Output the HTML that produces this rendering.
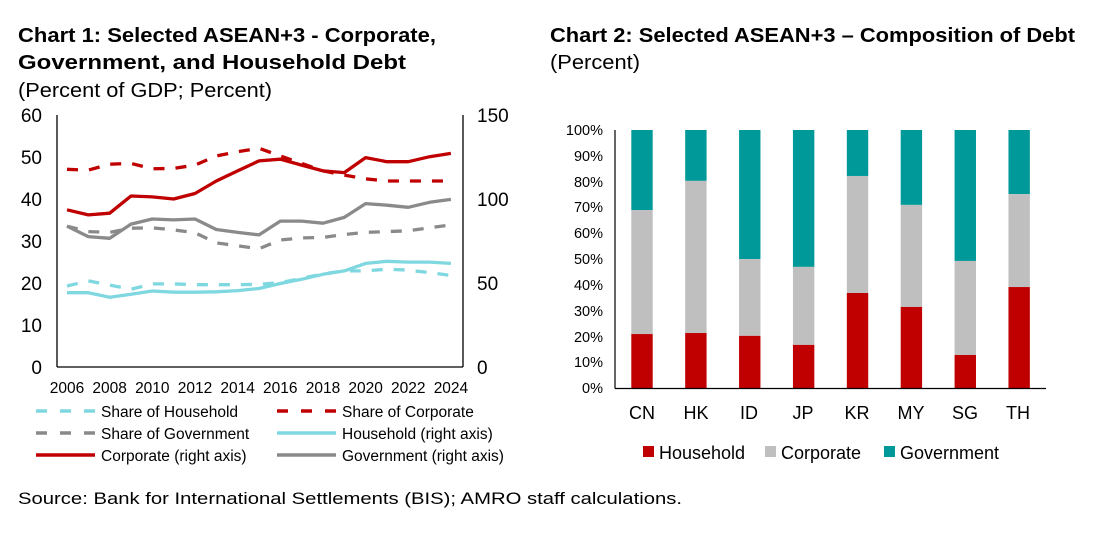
<!DOCTYPE html>
<html><head><meta charset="utf-8"><style>
body{margin:0;background:#fff;width:1103px;height:537px;overflow:hidden}
svg{display:block;font-family:"Liberation Sans",Arial,sans-serif}
</style></head><body>
<svg id="s" width="1103" height="537" viewBox="0 0 1103 537">
<text x="18" y="42" font-size="20" font-weight="bold" fill="#000" textLength="418" lengthAdjust="spacingAndGlyphs">Chart 1: Selected ASEAN+3 - Corporate,</text>
<text x="18" y="69" font-size="20" font-weight="bold" fill="#000" textLength="388" lengthAdjust="spacingAndGlyphs">Government, and Household Debt</text>
<text x="18" y="97" font-size="20" fill="#000" textLength="254" lengthAdjust="spacingAndGlyphs">(Percent of GDP; Percent)</text>
<text x="550" y="42" font-size="20" font-weight="bold" fill="#000" textLength="525" lengthAdjust="spacingAndGlyphs">Chart 2: Selected ASEAN+3 – Composition of Debt</text>
<text x="550" y="69" font-size="20" fill="#000" textLength="90" lengthAdjust="spacingAndGlyphs">(Percent)</text>
<g font-size="19" fill="#000" text-anchor="end">
<text x="42" y="122">60</text><text x="42" y="164">50</text><text x="42" y="206">40</text><text x="42" y="248">30</text><text x="42" y="290">20</text><text x="42" y="332">10</text><text x="42" y="374">0</text>
</g>
<g font-size="19" fill="#000">
<text x="477" y="122">150</text><text x="477" y="206">100</text><text x="477" y="290">50</text><text x="477" y="374">0</text>
</g>
<g id="xl" font-size="15.5" fill="#000" text-anchor="middle"></g>
<g id="lines"></g>
<line x1="57" y1="115" x2="57" y2="367" stroke="#000" stroke-width="1.3"/>
<line x1="463" y1="115" x2="463" y2="367" stroke="#000" stroke-width="1.3"/>
<line x1="57" y1="367" x2="463" y2="367" stroke="#000" stroke-width="1.3"/>
<g font-size="15.5" fill="#000">
<line x1="36" y1="411" x2="95" y2="411" stroke="#7fd7e0" stroke-width="3.5" stroke-dasharray="11,13"/><text x="101" y="417">Share of Household</text>
<line x1="277" y1="411" x2="336" y2="411" stroke="#c00000" stroke-width="3.5" stroke-dasharray="11,13"/><text x="342" y="417">Share of Corporate</text>
<line x1="36" y1="433" x2="95" y2="433" stroke="#8a8a8a" stroke-width="3.5" stroke-dasharray="11,13"/><text x="101" y="439">Share of Government</text>
<line x1="277" y1="433" x2="336" y2="433" stroke="#7fd7e0" stroke-width="3.5"/><text x="342" y="439">Household (right axis)</text>
<line x1="36" y1="455" x2="95" y2="455" stroke="#c00000" stroke-width="3.5"/><text x="101" y="461">Corporate (right axis)</text>
<line x1="277" y1="455" x2="336" y2="455" stroke="#8a8a8a" stroke-width="3.5"/><text x="342" y="461">Government (right axis)</text>
</g>
<g font-size="14.5" fill="#000" text-anchor="end">
<text x="603" y="135">100%</text><text x="603" y="161">90%</text><text x="603" y="187">80%</text><text x="603" y="212">70%</text><text x="603" y="238">60%</text><text x="603" y="264">50%</text><text x="603" y="290">40%</text><text x="603" y="316">30%</text><text x="603" y="342">20%</text><text x="603" y="367">10%</text><text x="603" y="393">0%</text>
</g>
<g id="bars"></g>
<line x1="615" y1="130" x2="615" y2="388.5" stroke="#000" stroke-width="1.2"/>
<line x1="615" y1="388.5" x2="1046" y2="388.5" stroke="#000" stroke-width="1.2"/>
<g font-size="18" fill="#000" text-anchor="middle">
<text x="642" y="419">CN</text><text x="696" y="419">HK</text><text x="749" y="419">ID</text><text x="803" y="419">JP</text><text x="857" y="419">KR</text><text x="911" y="419">MY</text><text x="965" y="419">SG</text><text x="1018" y="419">TH</text>
</g>
<g font-size="18" fill="#000">
<rect x="643" y="446" width="11" height="11" fill="#c00000"/><text x="659" y="459">Household</text>
<rect x="765" y="446" width="11" height="11" fill="#bfbfbf"/><text x="781" y="459">Corporate</text>
<rect x="884" y="446" width="11" height="11" fill="#009999"/><text x="900" y="459">Government</text>
</g>
<text x="18" y="504" font-size="17" fill="#000" textLength="664" lengthAdjust="spacingAndGlyphs">Source: Bank for International Settlements (BIS); AMRO staff calculations.</text>
</svg>
<script>
var NS="http://www.w3.org/2000/svg";
function el(t,a,p){var e=document.createElementNS(NS,t);for(var k in a)e.setAttribute(k,a[k]);p.appendChild(e);return e;}
var xl=document.getElementById('xl');
for(var y=2006;y<=2024;y+=2){var t=el('text',{x:67+(y-2006)*21.33,y:393},xl);t.textContent=y;}
var S=[
["#7fd7e0",1,[19.3,20.5,19.5,18.5,19.8,19.8,19.6,19.6,19.6,19.7,20.1,21.1,22.2,22.9,22.9,23.3,23.1,22.5,21.8]],
["#8a8a8a",1,[33.6,32.3,32.1,33.1,33.2,32.7,32,29.6,28.9,28.2,30.3,30.8,30.9,31.6,32.1,32.3,32.5,33.2,33.9]],
["#c00000",1,[47.2,47,48.4,48.6,47.3,47.4,48.2,50.4,51.4,52.2,50.4,48.6,46.8,45.8,44.9,44.4,44.4,44.4,44.4]],
["#7fd7e0",0,[17.7,17.7,16.6,17.3,18.1,17.8,17.8,17.9,18.2,18.7,19.9,20.9,22.1,22.9,24.7,25.2,25,25,24.7]],
["#8a8a8a",0,[33.6,31.1,30.7,34.1,35.3,35.1,35.3,32.8,32.1,31.5,34.8,34.8,34.3,35.7,39,38.6,38.1,39.3,40]],
["#c00000",0,[37.5,36.3,36.7,40.8,40.6,40.1,41.4,44.4,46.8,49.2,49.6,48.2,46.8,46.4,50,49,49,50.2,51]]];
var g=document.getElementById('lines');
S.forEach(function(s){var p=s[2].map(function(v,i){return (67+i*21.33).toFixed(1)+","+(366.7-v*4.183).toFixed(1)}).join(" ");
var a={points:p,fill:"none",stroke:s[0],"stroke-width":3.3,"stroke-linejoin":"round"};if(s[1])a["stroke-dasharray"]="11,11";el('polyline',a,g);});
var B=[[21,69],[21.4,80.3],[20.3,50],[16.8,47],[36.9,82.2],[31.5,71],[12.9,49.3],[39.2,75.2]];
var bg=document.getElementById('bars');var H=258.3,b0=388.3;
B.forEach(function(d,i){var cx=642+i*53.88,x=cx-10.7;
el('rect',{x:x,y:130,width:21.4,height:H*(1-d[1]/100),fill:"#009999"},bg);
el('rect',{x:x,y:b0-H*d[1]/100,width:21.4,height:H*(d[1]-d[0])/100,fill:"#bfbfbf"},bg);
el('rect',{x:x,y:b0-H*d[0]/100,width:21.4,height:H*d[0]/100,fill:"#c00000"},bg);});
</script>
</body></html>
